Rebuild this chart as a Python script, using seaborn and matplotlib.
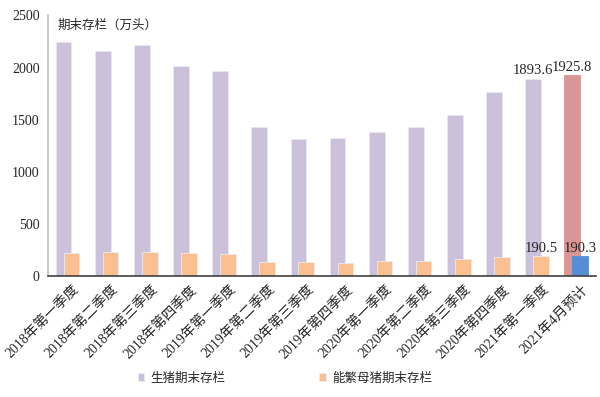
import matplotlib
matplotlib.use('Agg')
import matplotlib.pyplot as plt
import matplotlib.transforms as mtransforms
import seaborn as sns
import pandas as pd

quarters = ['2018年第一季度', '2018年第二季度', '2018年第三季度', '2018年第四季度',
            '2019年第一季度', '2019年第二季度', '2019年第三季度', '2019年第四季度',
            '2020年第一季度', '2020年第二季度', '2020年第三季度', '2020年第四季度',
            '2021年第一季度', '2021年4月预计']
hogs = [2245, 2160, 2215, 2016, 1970, 1425, 1316, 1324, 1385, 1426, 1549, 1762, 1893.6, 1925.8]
sows = [222, 229, 229, 219, 207, 130, 130, 128, 146, 146, 162, 184, 190.5, 190.3]
series = ['生猪期末存栏', '能繁母猪期末存栏']
yticks = [0, 500, 1000, 1500, 2000, 2500]

df = pd.DataFrame({
    '季度': quarters * 2,
    '存栏': hogs + sows,
    '指标': [series[0]] * len(quarters) + [series[1]] * len(quarters),
})

sns.set_style('white')
cjk = ['Noto Sans CJK SC', 'DejaVu Sans']
num = ['Liberation Serif', 'Noto Sans CJK SC']
plt.rcParams['font.family'] = cjk

fig = plt.figure(figsize=(6, 3.97), dpi=100)
ax = fig.add_axes([0.08, 0.305, 0.913, 0.656])

sns.barplot(data=df, x='季度', y='存栏', hue='指标', hue_order=series,
            palette=['#ccc1da', '#fac090'], saturation=1, width=0.4, gap=-1,
            dodge=True, legend=False, ax=ax, edgecolor='#ece8f2', linewidth=0.6)

# the forecast month is highlighted in other colours
ax.containers[0][-1].set_facecolor('#d99694')
ax.containers[0][-1].set_edgecolor('#d99694')
ax.containers[1][-1].set_facecolor('#558ed5')
ax.containers[1][-1].set_edgecolor('#558ed5')

shift_left = mtransforms.ScaledTranslation(-4 / 100, 0, fig.dpi_scale_trans)
for cont, vals in zip(ax.containers, [hogs, sows]):
    labels = [f'{v:.1f}' if i >= len(vals) - 2 else '' for i, v in enumerate(vals)]
    for t in ax.bar_label(cont, labels=labels, padding=1, fontsize=10.5, family=num):
        t.set_transform(t.get_transform() + shift_left)

ax.set_xlim(-0.5, len(quarters) - 0.5)
ax.set_ylim(0, 2500)
ax.set_yticks(yticks)
ax.set_yticklabels([str(t) for t in yticks], family=num, fontsize=10)
ax.set_xticks(range(len(quarters)))
ax.set_xticklabels(quarters, rotation=45, ha='right', rotation_mode='anchor',
                   family=num, fontsize=10)
ax.tick_params(axis='x', length=0, pad=5)
ax.tick_params(axis='y', length=0, pad=6)
shift_right = mtransforms.ScaledTranslation(5 / 100, 0, fig.dpi_scale_trans)
for lbl in ax.get_xticklabels():
    lbl.set_transform(lbl.get_transform() + shift_right)
ax.set_xlabel('')
ax.set_ylabel('')

for side in ['top', 'right']:
    ax.spines[side].set_visible(False)
ax.spines['left'].set_color('#bfbfbf')
ax.spines['left'].set_linewidth(1.2)
ax.spines['bottom'].set_color('#404040')
ax.spines['bottom'].set_linewidth(1.2)

ax.text(0.018, 0.963, '期末存栏（万头）', transform=ax.transAxes,
        ha='left', va='center', fontsize=9)

fig.legend(handles=list(ax.containers), labels=series, loc='center',
           bbox_to_anchor=(0.475, 0.048), ncol=2, frameon=False, fontsize=9,
           handlelength=0.55, handleheight=0.55, handletextpad=0.5,
           columnspacing=7.5)

plt.savefig('out.png', dpi=100)
